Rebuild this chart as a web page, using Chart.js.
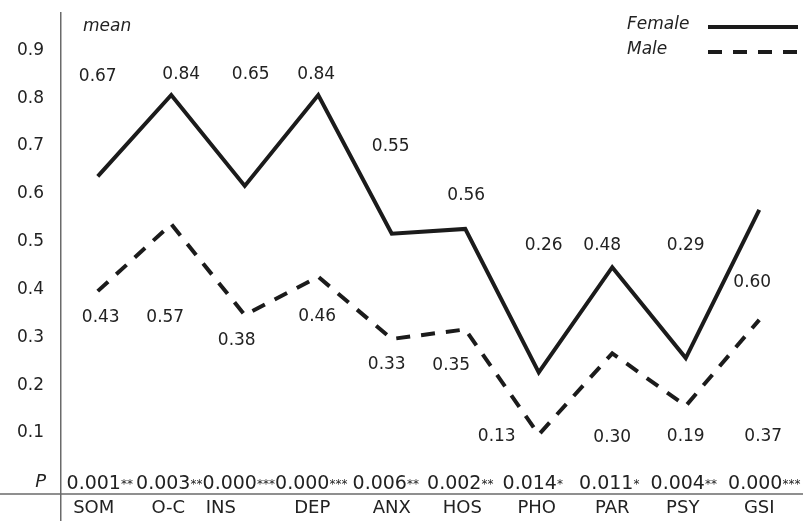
<!DOCTYPE html>
<html>
<head>
<meta charset="utf-8">
<title>SCL-90 factor means by sex</title>
<style>
  html, body { margin: 0; padding: 0; background: #ffffff; }
  canvas { display: block; }
</style>
<script src="https://cdn.jsdelivr.net/npm/chart.js@4/dist/chart.umd.min.js"></script>
</head>
<body>
<canvas id="chart" width="803" height="521"></canvas>
<script>
// Symptom dimensions and their mean scores
const categories = ['SOM', 'O-C', 'INS', 'DEP', 'ANX', 'HOS', 'PHO', 'PAR', 'PSY', 'GSI'];
const femaleMeans = [0.67, 0.84, 0.65, 0.84, 0.55, 0.56, 0.26, 0.48, 0.29, 0.60];
const maleMeans = [0.43, 0.57, 0.38, 0.46, 0.33, 0.35, 0.13, 0.30, 0.19, 0.37];
// Significance of the sex difference per dimension
const pValues = ['0.001', '0.003', '0.000', '0.000', '0.006', '0.002', '0.014', '0.011', '0.004', '0.000'];
const pStars = ['**', '**', '***', '***', '**', '**', '*', '*', '**', '***'];
// Value axis tick labels
const yTicks = [0.1, 0.2, 0.3, 0.4, 0.5, 0.6, 0.7, 0.8, 0.9];

// Where each value label sits relative to its point (px)
const labelShift = {
  Female: [[0, -100], [10, -20], [6, -111], [-2, -20], [-1, -87], [1, -33], [5, -127], [-10, -22], [0, -113], [-7, 73]],
  Male: [[3, 26], [-6, 93], [-8, 26], [-1, 40], [-5, 26], [-14, 36], [-42, 2], [0, 84], [0, 31], [4, 117]]
};
// Horizontal nudges of the table cells under the plot (px)
const nameShift = [-4, -3, -24, -6, 0, -3, -2, 0, -3, 0];
const pShift = [2, -2, -6, -7, -6, -5, -6, -3, -2, 5];

const FONT = '"DejaVu Sans", Verdana, sans-serif';
const TEXT = '#222222';
const INK = '#1b1b1b';
const AXIS = '#6a6a6a';
const DASH = [14, 11];

const decorations = {
  id: 'decorations',
  afterDatasetsDraw(chart) {
    const ctx = chart.ctx;
    const xs = chart.scales.x;
    ctx.save();
    ctx.fillStyle = TEXT;
    ctx.textBaseline = 'middle';

    // value labels next to every point
    ctx.font = '17px ' + FONT;
    ctx.textAlign = 'center';
    chart.data.datasets.forEach((ds, di) => {
      const meta = chart.getDatasetMeta(di);
      const shifts = labelShift[ds.label];
      meta.data.forEach((pt, i) => {
        const [dx, dy] = shifts[i];
        ctx.fillText(ds.data[i].toFixed(2), pt.x + dx, pt.y + dy);
      });
    });

    // axis caption
    ctx.font = 'italic 17px ' + FONT;
    ctx.textAlign = 'left';
    ctx.fillText('mean', 83, 27);

    // legend
    ctx.fillText('Female', 627, 25);
    ctx.fillText('Male', 627, 50);
    ctx.strokeStyle = INK;
    ctx.lineWidth = 4;
    ctx.lineCap = 'butt';
    ctx.beginPath();
    ctx.moveTo(708, 27); ctx.lineTo(798, 27);
    ctx.stroke();
    ctx.setLineDash(DASH);
    ctx.beginPath();
    ctx.moveTo(708, 52); ctx.lineTo(803, 52);
    ctx.stroke();
    ctx.setLineDash([]);

    // P row
    const pY = 482;
    ctx.font = 'italic 18px ' + FONT;
    ctx.textAlign = 'right';
    ctx.fillText('P', 46, pY);
    ctx.textBaseline = 'alphabetic';
    const base = pY + 7;
    categories.forEach((c, i) => {
      const cx = xs.getPixelForValue(i) + pShift[i];
      ctx.font = '19px ' + FONT;
      const w1 = ctx.measureText(pValues[i]).width;
      ctx.font = '12px ' + FONT;
      const w2 = ctx.measureText(pStars[i]).width;
      const x0 = cx - (w1 + w2) / 2;
      ctx.textAlign = 'left';
      ctx.font = '19px ' + FONT;
      ctx.fillText(pValues[i], x0, base);
      ctx.font = '12px ' + FONT;
      ctx.fillText(pStars[i], x0 + w1, base - 1);
    });

    // rule between the P row and the dimension names
    ctx.strokeStyle = AXIS;
    ctx.lineWidth = 1.5;
    ctx.beginPath();
    ctx.moveTo(0, 494); ctx.lineTo(803, 494);
    ctx.stroke();

    // dimension names
    ctx.font = '18px ' + FONT;
    ctx.textAlign = 'center';
    ctx.textBaseline = 'middle';
    categories.forEach((c, i) => {
      ctx.fillText(c, xs.getPixelForValue(i) + nameShift[i], 508);
    });
    ctx.restore();
  }
};

new Chart(document.getElementById('chart'), {
  type: 'line',
  data: {
    labels: categories,
    datasets: [
      {
        label: 'Female',
        data: femaleMeans,
        borderColor: INK,
        borderWidth: 4,
        pointRadius: 0,
        fill: false,
        tension: 0,
        borderCapStyle: 'butt',
        borderJoinStyle: 'miter'
      },
      {
        label: 'Male',
        data: maleMeans,
        borderColor: INK,
        borderWidth: 4,
        borderDash: DASH,
        pointRadius: 0,
        fill: false,
        tension: 0,
        borderCapStyle: 'butt',
        borderJoinStyle: 'miter'
      }
    ]
  },
  options: {
    responsive: false,
    animation: false,
    events: [],
    layout: { padding: { top: 13, right: 7, bottom: 0, left: 0 } },
    plugins: {
      legend: { display: false },
      tooltip: { enabled: false }
    },
    scales: {
      x: { type: 'category', display: false, offset: true },
      y: {
        min: -0.0506,
        max: 1.0115,
        grid: { display: false, drawTicks: false },
        border: { display: true, color: AXIS, width: 1.5 },
        afterBuildTicks(scale) {
          scale.ticks = yTicks.map(v => ({ value: v }));
        },
        afterFit(scale) {
          scale.width = 61;
          scale.paddingTop = 0;
          scale.paddingBottom = 0;
        },
        ticks: {
          padding: 17,
          labelOffset: -16,
          color: TEXT,
          font: { family: FONT, size: 17 },
          callback: v => Number(v).toFixed(1)
        }
      }
    }
  },
  plugins: [decorations]
});
</script>
</body>
</html>
